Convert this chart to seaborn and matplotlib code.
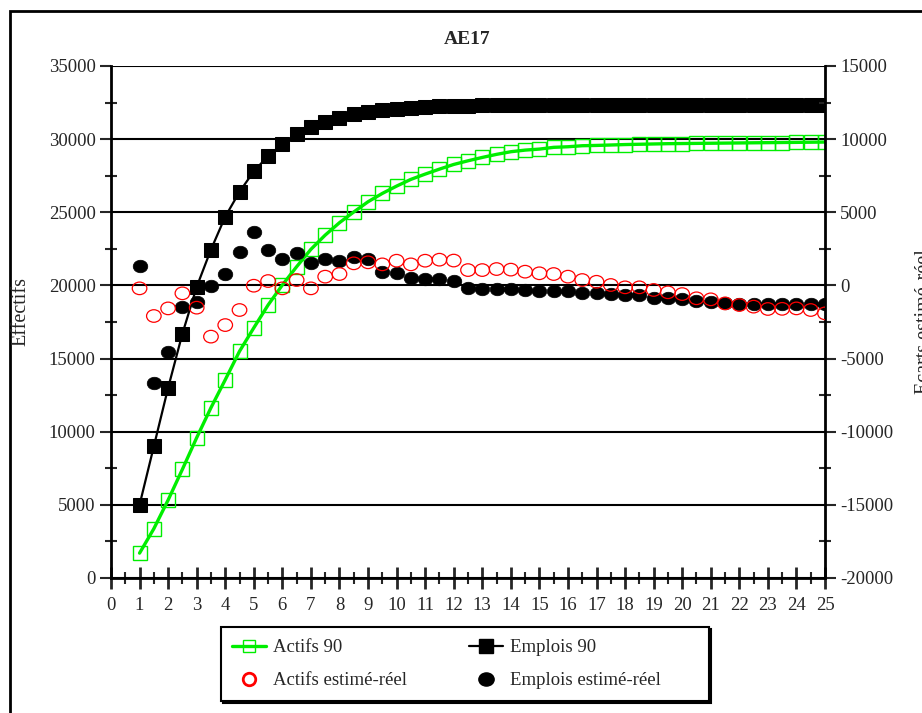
import numpy as np
import pandas as pd
import seaborn as sns
import matplotlib.pyplot as plt
from matplotlib.markers import MarkerStyle
from matplotlib.patches import Rectangle
from matplotlib.lines import Line2D
from matplotlib.transforms import Affine2D

# =========================
# Data
# =========================
annees = [1, 1.5, 2, 2.5, 3, 3.5, 4, 4.5, 5, 5.5, 6, 6.5, 7, 7.5, 8, 8.5, 9, 9.5,
          10, 10.5, 11, 11.5, 12, 12.5, 13, 13.5, 14, 14.5, 15, 15.5, 16, 16.5,
          17, 17.5, 18, 18.5, 19, 19.5, 20, 20.5, 21, 21.5, 22, 22.5, 23, 23.5,
          24, 24.5, 25]

actifs_90 = [1700, 3370, 5330, 7430, 9590, 11640, 13550, 15500, 17100, 18660,
             20030, 21280, 22470, 23440, 24290, 25020, 25720, 26290, 26790, 27250,
             27610, 27950, 28270, 28520, 28750, 28960, 29140, 29250, 29320, 29440,
             29480, 29550, 29570, 29600, 29630, 29650, 29670, 29690, 29700, 29710,
             29720, 29730, 29740, 29750, 29760, 29770, 29780, 29790, 29800]

emplois_90 = [5000, 9000, 13000, 16700, 19900, 22450, 24700, 26400, 27800, 28850,
              29660, 30330, 30850, 31190, 31460, 31720, 31880, 31990, 32080, 32150,
              32200, 32240, 32260, 32280, 32300, 32310, 32320, 32330, 32330, 32340,
              32340, 32340, 32340, 32350, 32350, 32350, 32350, 32350, 32350, 32350,
              32350, 32350, 32350, 32350, 32350, 32350, 32350, 32350, 32350]

actifs_ecart = [-200, -2090, -1570, -540, -1520, -3500, -2710, -1680, -20, 300,
                -200, 370, -200, 600, 780, 1510, 1580, 1440, 1690, 1440,
                1690, 1760, 1700, 1050, 1050, 1120, 1080, 940, 830, 780,
                600, 370, 250, 30, -130, -130, -310, -470, -590, -880,
                -950, -1230, -1340, -1450, -1610, -1600, -1570, -1680, -1910]

emplois_ecart = [1330, -6690, -4570, -1500, -1110, -40, 780, 2300, 3670, 2420,
                 1780, 2240, 1510, 1800, 1690, 1920, 1820, 940, 870, 510,
                 450, 440, 300, -180, -230, -260, -260, -300, -390, -390,
                 -390, -520, -540, -580, -660, -660, -880, -880, -900, -1040,
                 -1110, -1230, -1270, -1270, -1270, -1270, -1270, -1270, -1270]

df = pd.DataFrame({"annee": annees, "actifs_90": actifs_90, "emplois_90": emplois_90,
                   "actifs_ecart": actifs_ecart, "emplois_ecart": emplois_ecart})

sns.set_style("white")
plt.rcParams['font.family'] = ['Liberation Serif', 'DejaVu Serif']
plt.rcParams['axes.unicode_minus'] = False

W, H = 922, 713
fig = plt.figure(figsize=(W / 100, H / 100), dpi=100)
ax = fig.add_axes([111/W, 1 - 578/H, (825 - 111)/W, (578 - 66)/H])
ax2 = ax.twinx()

GREEN = "#00ee00"

# left axis series
sns.lineplot(data=df, x="annee", y="emplois_90", ax=ax, color="black", lw=1.6,
             marker="s", markersize=9.5, markerfacecolor="black",
             markeredgecolor="black", zorder=3)
sns.lineplot(data=df, x="annee", y="actifs_90", ax=ax, color=GREEN, lw=2.4,
             marker="s", markersize=10, markerfacecolor="none",
             markeredgecolor=GREEN, markeredgewidth=1.0, zorder=4)

# right axis series (slightly flattened circles like the original)
ell = MarkerStyle("o", transform=Affine2D().scale(1.0, 0.86))
sns.scatterplot(data=df, x="annee", y="emplois_ecart", ax=ax2, marker=ell, s=110,
                color="black", edgecolor="black", linewidth=0.5, zorder=3)
sns.scatterplot(data=df, x="annee", y="actifs_ecart", ax=ax2, marker=ell, s=110,
                facecolor="none", edgecolor="red", linewidth=0.9, zorder=4)

# axes limits / ticks
ax.set_xlim(0, 25)
ax.set_ylim(0, 35000)
ax2.set_ylim(-20000, 15000)
ax.set_xticks(np.arange(0, 26, 1))
ax.set_xticks(np.arange(0.5, 25, 1), minor=True)
ax.set_yticks(np.arange(0, 35001, 5000))
ax.set_yticks(np.arange(2500, 35000, 5000), minor=True)
ax2.set_yticks(np.arange(-20000, 15001, 5000))
ax2.set_yticks(np.arange(-17500, 15000, 5000), minor=True)

ax.yaxis.grid(True, color="black", lw=1.5)
ax.xaxis.grid(False)
ax.set_axisbelow(True)

ax.tick_params(axis="x", which="major", direction="inout", length=16, width=2,
               labelsize=13.5, pad=6, bottom=True)
ax.tick_params(axis="x", which="minor", direction="inout", length=9, width=1.5,
               bottom=True)
ax.tick_params(axis="y", which="major", direction="out", length=8, width=1.5,
               labelsize=13.5, pad=3, left=True)
ax.tick_params(axis="y", which="minor", direction="inout", length=9, width=1.5,
               left=True)
ax2.tick_params(axis="y", which="major", direction="out", length=8, width=1.5,
                labelsize=13.5, pad=3, right=True)
ax2.tick_params(axis="y", which="minor", direction="inout", length=9, width=1.5,
                right=True)

for a in (ax, ax2):
    for side in ("left", "right", "bottom"):
        a.spines[side].set_linewidth(2)
        a.spines[side].set_color("black")
    a.spines["top"].set_visible(False)
ax.spines["right"].set_visible(False)
ax2.spines["left"].set_visible(False)
ax2.spines["bottom"].set_visible(False)

ax.set_xlabel("")
ax.set_ylabel("")
ax2.set_ylabel("")

fig.text(467/W, 1 - 40/H, "AE17", ha="center", va="center",
         fontsize=14, fontweight="bold")
fig.text(21/W, 1 - 311/H, "Effectifs", rotation=90, ha="center", va="center",
         fontsize=14.5)
# the right label runs off the figure edge, as in the original
fig.text(915/W, 1 - 322/H, "Ecarts estimé-réel", rotation=90, ha="left",
         va="center", fontsize=14.5)

# outer chart frame (only left / top edges visible in the original)
fig.patches.append(Rectangle((10/W, -0.05), 1.1, 1 - 11/H + 0.05,
                             transform=fig.transFigure, fill=False,
                             edgecolor="black", lw=2))

# legend box with a small black drop shadow
fig.patches.append(Rectangle((223/W, 1 - 703/H), (709 - 221)/W, (701 - 627)/H,
                             transform=fig.transFigure, facecolor="black",
                             edgecolor="black", lw=1.5, zorder=5))
fig.patches.append(Rectangle((221/W, 1 - 701/H), (709 - 221)/W, (701 - 627)/H,
                             transform=fig.transFigure, facecolor="white",
                             edgecolor="black", lw=1.5, zorder=6))

handles = [
    Line2D([], [], color=GREEN, lw=2.4, marker="s", markersize=9,
           markerfacecolor="none", markeredgecolor=GREEN),
    Line2D([], [], ls="none", marker="o", markersize=9, markerfacecolor="none",
           markeredgecolor="red", markeredgewidth=2),
    Line2D([], [], color="black", lw=1.6, marker="s", markersize=9.5,
           markerfacecolor="black"),
    Line2D([], [], ls="none", marker=ell, markersize=11, markerfacecolor="black",
           markeredgecolor="black"),
]
labels = ["Actifs 90", "Actifs estimé-réel", "Emplois 90", "Emplois estimé-réel"]
leg = fig.legend(handles, labels, ncol=2, loc="upper left",
                 bbox_to_anchor=(232/W, 1 - 639/H), fontsize=13.5,
                 frameon=False, borderpad=0, borderaxespad=0,
                 handlelength=1.8, handletextpad=0.4, columnspacing=3.3,
                 labelspacing=0.85)
leg.set_zorder(7)

fig.savefig("out.png", dpi=100)
